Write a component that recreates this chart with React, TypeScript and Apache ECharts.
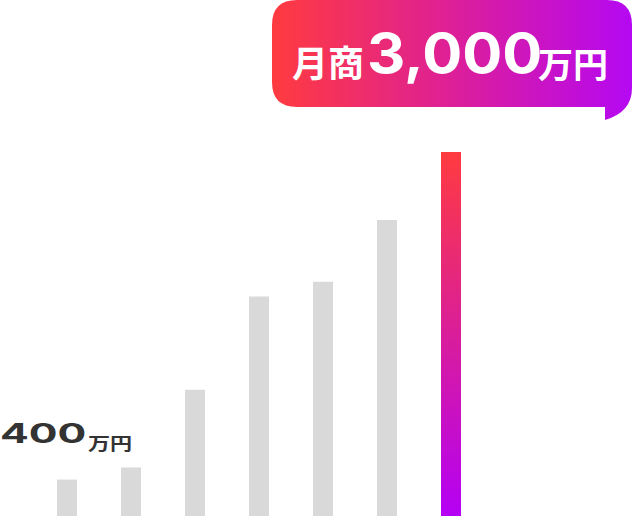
import { useEffect, useRef } from 'react';
import * as echarts from 'echarts';

const categories = ['1', '2', '3', '4', '5', '6', '7'];
const sales = [300, 400, 1040, 1810, 1930, 2440, 3000];
const startValue = '400';
const endValue = '3,000';
const unit = '万円';
const prefix = '月商';

const grey = '#d9d9d9';
const red = '#ff3b3f';
const purple = '#b508f2';

const bubblePath =
  'M297 0 H607 Q632 0 632 25 V88 Q632 112 605 120 V107 H297 Q272 107 272 82 V25 Q272 0 297 0 Z';
echarts.graphic.registerShape('bubble', echarts.graphic.extendPath(bubblePath, {}) as any);

const numFont = 'Inter, Lato, sans-serif';
const jpFont = '"Noto Sans CJK JP", sans-serif';

export default function App() {
  const chartRef = useRef(null);

  useEffect(() => {
    const chart = echarts.init(chartRef.current, null, { renderer: 'svg' });
    const option = {
      animation: false,
      grid: { left: 35, right: 149, top: 152, bottom: 0 },
      xAxis: {
        type: 'category',
        data: categories,
        show: false,
      },
      yAxis: { type: 'value', min: 0, max: 3000, show: false },
      series: [
        {
          type: 'bar',
          barWidth: 20,
          data: sales.map((v, i) =>
            i === sales.length - 1
              ? {
                  value: v,
                  itemStyle: {
                    color: new echarts.graphic.LinearGradient(0, 0, 0, 1, [
                      { offset: 0, color: red },
                      { offset: 1, color: '#b400f5' },
                    ]),
                  },
                }
              : { value: v, itemStyle: { color: grey } }
          ),
        },
      ],
      graphic: [
        {
          type: 'bubble',
          x: 0,
          y: 0,
          style: {
            fill: new echarts.graphic.LinearGradient(0, 0, 1, 0, [
              { offset: 0, color: red },
              { offset: 0.5, color: '#dd1f98' },
              { offset: 1, color: purple },
            ]),
          },
        },
        {
          type: 'text',
          x: 292,
          y: 61,
          style: { text: prefix, fill: '#fff', fontSize: 36, fontWeight: 'bold', fontFamily: jpFont, verticalAlign: 'middle' },
        },
        {
          type: 'text',
          x: 367,
          y: 53,
          scaleX: 1.08,
          style: { text: endValue, fill: '#fff', fontSize: 55, fontWeight: 'bold', fontFamily: numFont, verticalAlign: 'middle' },
        },
        {
          type: 'text',
          x: 538,
          y: 62,
          style: { text: unit, fill: '#fff', fontSize: 35, fontWeight: 'bold', fontFamily: jpFont, verticalAlign: 'middle' },
        },
        {
          type: 'text',
          x: 0,
          y: 433,
          scaleX: 1.58,
          style: { text: startValue, fill: '#333', fontSize: 27, fontWeight: 'bold', fontFamily: numFont, verticalAlign: 'middle' },
        },
        {
          type: 'text',
          x: 88,
          y: 443,
          scaleX: 1.3,
          style: { text: unit, fill: '#333', fontSize: 17, fontWeight: 'bold', fontFamily: jpFont, verticalAlign: 'middle' },
        },
      ],
    };
    chart.setOption(option);
    return () => {
      chart.dispose();
    };
  }, []);

  return <div ref={chartRef} style={{ position: 'absolute', left: 0, top: 0, width: '632px', height: '516px' }} />;
}
